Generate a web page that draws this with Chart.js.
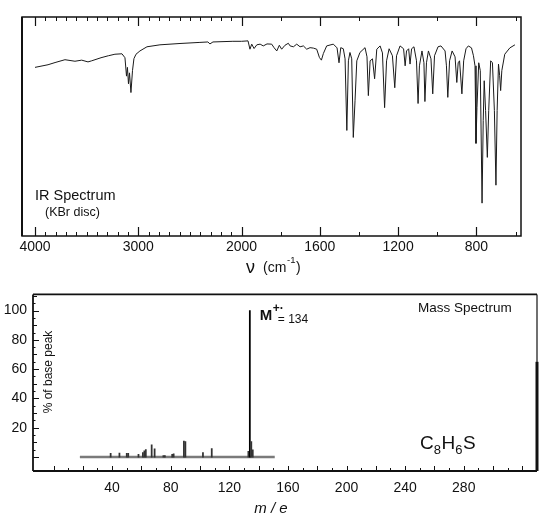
<!DOCTYPE html>
<html><head><meta charset="utf-8">
<script src="https://cdn.jsdelivr.net/npm/chart.js@4.4.1/dist/chart.umd.min.js"></script>
<style>
html,body{margin:0;padding:0;background:#fff;width:545px;height:519px;overflow:hidden}
canvas{position:absolute;left:0}
#ir{top:0}
#ms{top:280px}
</style></head><body>
<canvas id="ir" width="545" height="280"></canvas>
<canvas id="ms" width="545" height="239"></canvas>
<script>
// ---------------- IR spectrum data ----------------
const irWavenumber = [4000,3874,3806,3710,3613,3548,3487,3451,3361,3290,3226,3158,3129,3114,3105,3095,3085,3071,3056,3042,3022,2984,2916,2790,2596,2403,2326,2306,2277,2084,2000,
1967,1957,1948,1936,1922,1905,1889,1870,1846,1834,1820,1807,1795,1778,1761,1752,1735,1718,1701,1684,1667,1650,1633,1616,1602,1592,1582,1565,1531,1512,1502,1493,1480,1471,1462,1454,1446,1437,1429,1420,1411,1395,1369,1359,1352,1343,1331,1320,1309,1292,1280,1269,1259,1246,1229,1217,1208,1190,1172,1164,1157,1146,1139,1131,1119,1106,1098,1091,1078,1068,1063,1055,1045,1032,1023,1014,996,981,960,953,946,937,924,909,900,893,886,874,865,853,841,825,815,807,802,797,788,780,771,765,760,753,744,737,727,718,708,700,694,687,681,676,670,655,629,603];
const irTransmittance = [77.0,78.2,79.2,80.5,79.8,80.3,79.5,80.0,81.4,82.3,83.0,83.2,81.4,73.0,77.0,69.5,74.5,65.5,75.5,81.0,83.0,84.5,86.4,87.3,87.9,88.4,88.6,87.7,88.6,88.9,88.9,
89.1,85.3,87.6,85.6,87.3,87.6,86.8,87.7,87.6,86.0,84.5,87.1,85.3,87.1,88.0,86.8,86.4,87.6,86.4,86.8,85.3,86.0,85.8,85.3,81.5,80.3,83.3,86.8,87.6,85.9,79.1,86.0,85.5,80.9,48.2,80.0,83.8,80.9,45.0,62.0,80.0,83.8,86.0,81.8,64.1,80.0,80.9,71.8,85.3,86.8,83.6,58.6,80.0,85.5,82.3,67.7,82.3,86.8,85.5,77.7,84.5,85.5,78.5,85.5,86.4,80.0,60.5,77.7,84.5,79.1,61.4,79.1,84.5,80.9,64.9,82.3,86.4,86.8,84.5,77.7,63.3,80.0,84.5,81.8,70.1,79.1,80.0,64.9,80.0,85.5,86.8,85.9,82.3,77.7,42.3,58.6,79.1,75.5,15.0,52.7,70.9,57.3,35.9,57.3,80.0,79.1,57.3,23.2,57.3,78.5,73.2,66.4,75.5,83.0,85.9,87.3];
const irTickLabels = [4000,3000,2000,1600,1200,800];
const irMinorTicks = [3900,3800,3700,3600,3500,3400,3300,3200,3100,2900,2800,2700,2600,2500,2400,2300,2200,2100,1800,1400,1000,600];

// ---------------- Mass spectrum data ----------------
const msMass      = [39, 45, 50, 51, 58, 61, 62, 63, 67, 69, 75, 76, 81, 82, 89, 90, 102, 108, 133, 134, 135, 136];
const msIntensity = [2.5,2.8,2.6,2.6,1.8,3.1,4.2,5.1,8.4,5.6,1.0,1.0,1.8,2.3,11.0,10.5,3.0,5.8,4.0,100,10.5,5.0];
const msBaselineRange = [18, 151];
const msTickLabels = [40,80,120,160,200,240,280];
const msYTickLabels = [20,40,60,80,100];
const molecularIon = 134;

const FONT = '"Liberation Sans", Arial, Helvetica, sans-serif';
const INK = '#111';

// piecewise wavenumber scale: compressed above 2000 cm-1
const IR_BREAK = 2000, IR_COMPRESS = 0.5277;
class BrokenScale extends Chart.LinearScale {
  _pos(v){ return v >= IR_BREAK ? (this.max - v) * IR_COMPRESS : (this.max - IR_BREAK) * IR_COMPRESS + (IR_BREAK - v); }
  getPixelForValue(v){ return this.left + this.width * this._pos(v) / this._pos(this.min); }
  getValueForPixel(px){
    const t = (px - this.left) / this.width * this._pos(this.min);
    const pb = (this.max - IR_BREAK) * IR_COMPRESS;
    return t <= pb ? this.max - t / IR_COMPRESS : IR_BREAK - (t - pb);
  }
}
BrokenScale.id = 'broken';
BrokenScale.defaults = Chart.LinearScale.defaults;
Chart.register(BrokenScale);

function line(ctx, x1, y1, x2, y2){ ctx.beginPath(); ctx.moveTo(x1, y1); ctx.lineTo(x2, y2); ctx.stroke(); }

const irDecor = {
  id: 'irDecor',
  afterDraw(chart){
    const ctx = chart.ctx, a = chart.chartArea, sx = chart.scales.x;
    ctx.save();
    ctx.strokeStyle = INK; ctx.fillStyle = INK;
    ctx.lineWidth = 1.5;
    ctx.strokeRect(a.left, a.top, a.right - a.left, a.bottom - a.top);
    ctx.lineWidth = 2; line(ctx, a.left, a.top, a.left, a.bottom);
    ctx.lineWidth = 1.2;
    irTickLabels.forEach(v => { const x = Math.round(sx.getPixelForValue(v)) + 0.5; line(ctx, x, a.top, x, a.top + 9); line(ctx, x, a.bottom, x, a.bottom - 9); });
    ctx.lineWidth = 1;
    irMinorTicks.forEach(v => { const x = Math.round(sx.getPixelForValue(v)) + 0.5; line(ctx, x, a.top, x, a.top + 4); line(ctx, x, a.bottom, x, a.bottom - 4); });
    // labels
    ctx.textBaseline = 'alphabetic'; ctx.textAlign = 'left';
    ctx.font = '14.5px ' + FONT; ctx.fillText('IR Spectrum', 35, 200);
    ctx.font = '12.5px ' + FONT; ctx.fillText('(KBr disc)', 45, 216);
    // axis title  ν (cm-1)
    ctx.font = '18px ' + FONT; ctx.fillText('ν', 246, 273);
    ctx.font = '14px ' + FONT; ctx.fillText('(cm', 263, 272);
    ctx.font = '9.5px ' + FONT; ctx.fillText('-1', 287, 263);
    ctx.font = '14px ' + FONT; ctx.fillText(')', 296, 272);
    ctx.restore();
  }
};

new Chart(document.getElementById('ir'), {
  type: 'line',
  data: { datasets: [{
    data: irWavenumber.map((v, i) => ({ x: v, y: irTransmittance[i] })),
    borderColor: '#1a1a1a', borderWidth: 1, pointRadius: 0, tension: 0, fill: false
  }]},
  options: {
    responsive: false, animation: false, devicePixelRatio: 1,
    layout: { padding: { top: 17, left: 22, right: 24, bottom: 0 } },
    plugins: { legend: { display: false }, tooltip: { enabled: false } },
    scales: {
      x: { type: 'broken', min: 572, max: 4126,
        grid: { display: false, drawTicks: false }, border: { display: false },
        afterBuildTicks: s => { s.ticks = irTickLabels.map(v => ({ value: v })); },
        afterFit: s => { s.height = 44; },
        ticks: { font: { family: FONT, size: 14 }, color: INK, padding: 3, maxRotation: 0, autoSkip: false, callback: v => String(v) } },
      y: { display: false, min: 0, max: 100 }
    }
  },
  plugins: [irDecor]
});

const msDecor = {
  id: 'msDecor',
  afterDraw(chart){
    const ctx = chart.ctx, a = chart.chartArea, sx = chart.scales.x, sy = chart.scales.y;
    ctx.save();
    ctx.strokeStyle = INK; ctx.fillStyle = INK;
    ctx.lineWidth = 1.8;
    line(ctx, a.left, a.top, a.right, a.top);
    line(ctx, a.left, a.bottom, a.right, a.bottom);
    line(ctx, a.left, a.top, a.left, a.bottom);
    ctx.lineWidth = 1.2; line(ctx, a.right, a.top, a.right, a.bottom);
    ctx.lineWidth = 3; line(ctx, a.right, sy.getPixelForValue(65), a.right, a.bottom);
    ctx.lineWidth = 1;
    for (let m = 0; m <= 320; m += 10) {
      const x = Math.round(sx.getPixelForValue(m)) + 0.5;
      line(ctx, x, a.bottom, x, a.bottom - (m % 20 === 0 ? 5 : 3));
    }
    for (let v = 0; v <= 110; v += 5) {
      const y = Math.round(sy.getPixelForValue(v)) + 0.5;
      const len = v % 20 === 0 ? 6 : (v % 10 === 0 ? 4 : 2.5);
      line(ctx, a.left, y, a.left + len, y);
    }
    // texts
    ctx.textBaseline = 'alphabetic'; ctx.textAlign = 'left';
    ctx.font = '13.5px ' + FONT; ctx.fillText('Mass Spectrum', 418, 32);
    const px = sx.getPixelForValue(molecularIon);
    ctx.font = 'bold 15px ' + FONT; ctx.fillText('M', px + 10, 40);
    ctx.font = 'bold 12px ' + FONT; ctx.fillText('+·', px + 23, 32);
    ctx.font = '12px ' + FONT; ctx.fillText('= ' + molecularIon, px + 28, 43);
    // formula C8H6S
    ctx.font = '19px ' + FONT;
    let x = 420; const yb = 169;
    ctx.fillText('C', x, yb); x += ctx.measureText('C').width;
    ctx.font = '13px ' + FONT; ctx.fillText('8', x, yb + 5); x += ctx.measureText('8').width + 0.5;
    ctx.font = '19px ' + FONT; ctx.fillText('H', x, yb); x += ctx.measureText('H').width;
    ctx.font = '13px ' + FONT; ctx.fillText('6', x, yb + 5); x += ctx.measureText('6').width + 0.5;
    ctx.font = '19px ' + FONT; ctx.fillText('S', x, yb);
    // y title
    ctx.save();
    ctx.translate(49, 92); ctx.rotate(-Math.PI / 2);
    ctx.textAlign = 'center'; ctx.textBaseline = 'middle';
    ctx.font = '12px ' + FONT; ctx.fillText('% of base peak', 0, 0);
    ctx.restore();
    // x title
    ctx.textAlign = 'center';
    ctx.font = 'italic 15px ' + FONT; ctx.fillText('m / e', 271, 233);
    ctx.restore();
  }
};

new Chart(document.getElementById('ms'), {
  type: 'bar',
  data: { datasets: [
    { type: 'line', data: msBaselineRange.map(m => ({ x: m, y: 0 })), borderColor: '#7a7a7a', borderWidth: 2.5, pointRadius: 0, order: 2 },
    { type: 'bar', data: msMass.map((m, i) => ({ x: m, y: msIntensity[i] })),
      backgroundColor: c => (c.raw && c.raw.y >= 50) ? '#000' : '#333', borderWidth: 0, barThickness: 1.1, order: 1 }
  ]},
  options: {
    responsive: false, animation: false, devicePixelRatio: 1,
    layout: { padding: { top: 10, left: 0, right: 8, bottom: 0 } },
    plugins: { legend: { display: false }, tooltip: { enabled: false } },
    scales: {
      x: { type: 'linear', offset: false, min: -14, max: 330,
        grid: { display: false, drawTicks: false }, border: { display: false },
        afterBuildTicks: s => { s.ticks = msTickLabels.map(v => ({ value: v })); },
        afterFit: s => { s.height = 48; },
        ticks: { font: { family: FONT, size: 14 }, color: INK, padding: 9, maxRotation: 0, autoSkip: false, callback: v => String(v) } },
      y: { type: 'linear', min: -9.5, max: 111,
        grid: { display: false, drawTicks: false }, border: { display: false },
        afterBuildTicks: s => { s.ticks = msYTickLabels.map(v => ({ value: v })); },
        afterFit: s => { s.width = 33; },
        ticks: { font: { family: FONT, size: 14 }, color: INK, padding: 6, autoSkip: false, callback: v => String(v) } }
    }
  },
  plugins: [msDecor]
});
</script>
</body></html>
